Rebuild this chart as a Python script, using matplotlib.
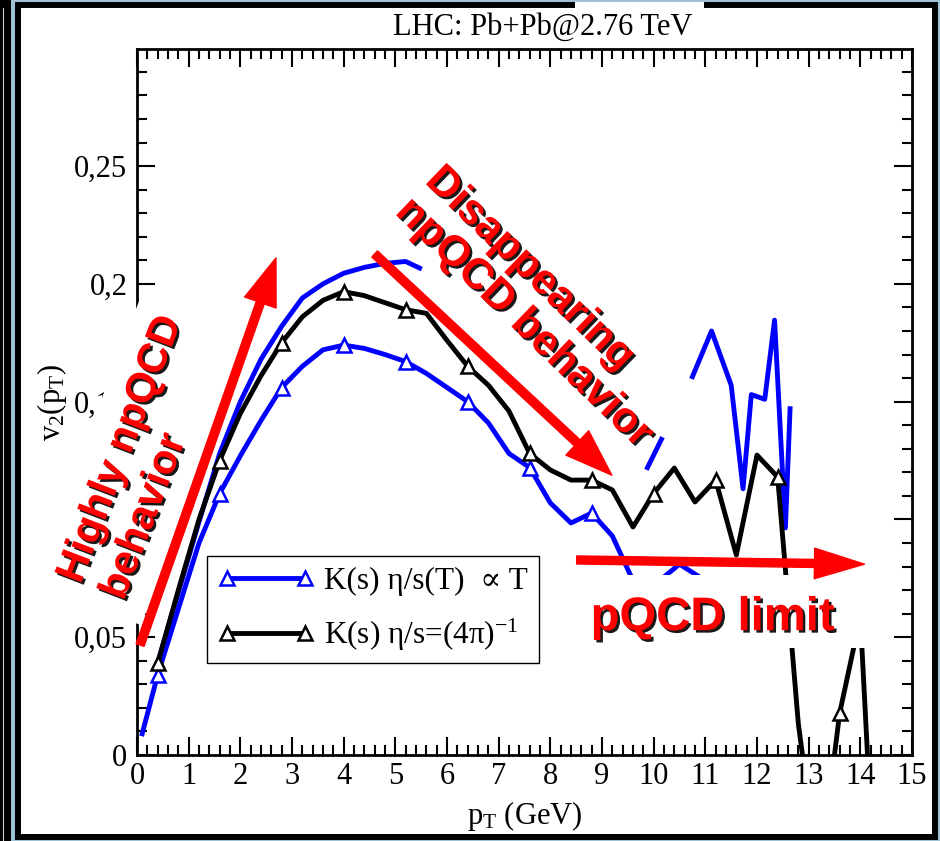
import numpy as np
import matplotlib
matplotlib.use("Agg")
import matplotlib.pyplot as plt
from matplotlib import patheffects
from matplotlib.lines import Line2D
from matplotlib.patches import Rectangle
from matplotlib.ticker import FixedLocator, MultipleLocator

plt.rcParams["font.family"] = ["Liberation Serif", "DejaVu Serif"]
plt.rcParams["mathtext.fontset"] = "custom"
plt.rcParams["mathtext.rm"] = "Liberation Serif"
plt.rcParams["mathtext.it"] = "Liberation Serif:italic"

W, H = 940, 841

# K(s), eta/s(T) ~ T
pt_T = [0.1, 0.4, 0.8, 1.2, 1.6, 2.0, 2.4, 2.8, 3.2, 3.6, 4.0, 4.4, 4.8, 5.2,
        5.6, 6.0, 6.4, 6.8, 7.2, 7.6, 8.0, 8.4, 8.8, 9.2, 9.6, 10.0, 10.5,
        11.0, 11.2, 11.6, 12.0, 12.4]
v2_T = [0.009, 0.034, 0.062, 0.090, 0.111, 0.127, 0.142, 0.156, 0.165, 0.172,
        0.174, 0.1726, 0.170, 0.167, 0.162, 0.156, 0.150, 0.141, 0.128, 0.122,
        0.107, 0.0985, 0.1027, 0.093, 0.074, 0.072, 0.081, 0.074, 0.070, 0.062,
        0.058, 0.055]

# second eta/s(T) run (no symbols), only the parts that show
pt_T2 = [0.4, 0.8, 1.2, 1.6, 2.0, 2.4, 2.8, 3.2, 3.6, 4.0, 4.4, 4.8, 5.2, 5.47,
         7.5, 9.88, 10.15, 10.45, 10.75, 11.12, 11.5, 11.73, 11.89, 12.15,
         12.34, 12.55, 12.64]
v2_T2 = [0.039, 0.069, 0.099, 0.128, 0.150, 0.168, 0.182, 0.194, 0.200, 0.2045,
         0.207, 0.2087, 0.2095, 0.2067, np.nan, 0.122, 0.134, np.nan, 0.1606,
         0.180, 0.157, 0.113, 0.153, 0.151, 0.1846, 0.0964, 0.147]

# K(s), eta/s = 1/(4 pi)
pt_min = [0.4, 0.8, 1.2, 1.6, 2.0, 2.4, 2.8, 3.2, 3.6, 4.0, 4.4, 4.8, 5.2, 5.6,
          6.0, 6.4, 6.8, 7.2, 7.6, 8.0, 8.4, 8.8, 9.2, 9.6, 10.0, 10.4, 10.8,
          11.2, 11.6, 12.0, 12.4, 12.8, 13.2, 13.6, 14.0, 14.4]
v2_min = [0.039, 0.070, 0.100, 0.125, 0.145, 0.161, 0.175, 0.186, 0.193, 0.1967,
          0.195, 0.192, 0.189, 0.1875, 0.176, 0.165, 0.157, 0.146, 0.128, 0.121,
          0.1167, 0.1167, 0.1125, 0.0968, 0.111, 0.1218, 0.1074, 0.1167, 0.0849,
          0.1273, 0.118, 0.0133, -0.053, 0.0178, 0.0586, -0.11]

legend_labels = [r"K(s) η/s(T)  ∝ T", r"K(s) η/s=(4π)$^{-1}$"]
yticks = [0.0, 0.05, 0.10, 0.15, 0.20, 0.25]
yticklabels = ["0", "0,05", "0,1", "0,15", "0,2", "0,25"]
xticks = list(range(0, 16))


def symbol_idx(xs, start=0.4, step=1.2):
    out = []
    for i, x in enumerate(xs):
        k = (x - start) / step
        if abs(k - round(k)) < 1e-6:
            out.append(i)
    return out


def fig_rect(x0, y0, x1, y1, **kw):
    # pixel box (top-down) -> figure-fraction rectangle
    return Rectangle((x0 / W, 1 - y1 / H), (x1 - x0) / W, (y1 - y0) / H,
                     transform=fig.transFigure, **kw)


fig = plt.figure(figsize=(W / 100, H / 100), dpi=100, facecolor="#9ec3d6")

# slide frame around the plot
fig.patches.append(fig_rect(0, 0, 11, H, fc="black", ec="none", zorder=-3))
fig.add_artist(Line2D([2.5 / W, 2.5 / W], [0, 1 - 8 / H], transform=fig.transFigure,
                      color="#cccccc", lw=0.8, zorder=-2))
fig.patches.append(fig_rect(18, 5, 935, 837, fc="white", ec="black", lw=4.3, zorder=-2))
fig.patches.append(fig_rect(575, 2, 704, 9, fc="white", ec="none", zorder=-1))

ax = fig.add_axes([137 / W, (H - 755) / H, 775 / W, 706 / H])
ax.set_xlim(0, 15)
ax.set_ylim(0, 0.2997)

line_kw = dict(lw=3.5, marker="^", ms=10, mfc="white", mew=1.8)
ax.plot(pt_T2, v2_T2, color="blue", lw=3.5, zorder=3.0)
ax.plot(pt_T, v2_T, color="blue", mec="blue", markevery=symbol_idx(pt_T),
        zorder=3.1, **line_kw)
ax.plot(pt_min, v2_min, color="black", mec="black", markevery=symbol_idx(pt_min),
        zorder=3.2, **line_kw)

# white label box over the pQCD region
ax.add_patch(Rectangle((9.0, 0.0454), 5.4, 0.031, fc="white", ec="none", zorder=3.5))

ax.xaxis.set_major_locator(FixedLocator(xticks))
ax.xaxis.set_minor_locator(MultipleLocator(0.2))
ax.set_xticklabels([str(t) for t in xticks])
ax.yaxis.set_major_locator(FixedLocator(yticks))
ax.yaxis.set_minor_locator(MultipleLocator(0.01))
ax.set_yticklabels(yticklabels)
ax.tick_params(which="both", direction="in", top=True, right=True, width=1.5,
               labelsize=22)
ax.tick_params(which="major", length=13)
ax.tick_params(which="minor", length=7)
ax.tick_params(axis="x", pad=5)
ax.tick_params(axis="y", pad=7)
for s in ax.spines.values():
    s.set_linewidth(2)

ax.set_xlabel(r"p$_\mathrm{T}$ (GeV)", fontsize=22, labelpad=6)
ax.set_ylabel(r"v$_2$(p$_\mathrm{T}$)", fontsize=22, labelpad=4)
fig.text(543 / W, 1 - 35 / H, "LHC: Pb+Pb@2.76 TeV", ha="center", va="baseline",
         fontsize=22)

handles = [
    Line2D([], [], color="blue", mec="blue", **line_kw),
    Line2D([], [], color="black", mec="black", **line_kw),
]
leg = ax.legend(handles, legend_labels, loc="upper left",
                bbox_to_anchor=(0.0903, 0.2819), borderaxespad=0, numpoints=2,
                handlelength=3.1, handletextpad=0.3, labelspacing=0.65,
                borderpad=0.35, fancybox=False, edgecolor="black", framealpha=1,
                fontsize=22.5)
leg.get_frame().set_linewidth(1.0)

# red annotations
red_font = dict(family=["Liberation Sans", "DejaVu Sans"], weight="bold", color="red")
shadow = [patheffects.withSimplePatchShadow(offset=(1.8, -1.8), shadow_rgbFace="black",
                                            alpha=0.9)]
arrow_big = "simple,head_length=34,head_width=24,tail_width=6"
arrow_flat = "simple,head_length=36,head_width=22,tail_width=5.8"

ax.annotate("", xy=(2.69, 0.211), xytext=(0.06, 0.0467),
            arrowprops=dict(arrowstyle=arrow_big, color="red", shrinkA=0, shrinkB=0,
                            mutation_scale=1), zorder=4)
ax.annotate("", xy=(9.19, 0.1188), xytext=(4.6, 0.2127),
            arrowprops=dict(arrowstyle=arrow_big, color="red", shrinkA=0, shrinkB=0,
                            mutation_scale=1), zorder=4)
ax.annotate("", xy=(14.08, 0.081), xytext=(8.51, 0.0828),
            arrowprops=dict(arrowstyle=arrow_flat, color="red", shrinkA=0, shrinkB=0,
                            mutation_scale=1), zorder=4)

ax.text(0.10, 0.1263, "Highly npQCD\nbehavior", rotation=69, rotation_mode="anchor",
        ha="center", va="center", multialignment="left", fontsize=30, linespacing=1.2,
        bbox=dict(boxstyle="square,pad=0.38", fc="white", ec="none"),
        path_effects=shadow, zorder=2.6, **red_font)
ax.text(7.77, 0.190, "Disappearing\nnpQCD behavior", rotation=-44,
        rotation_mode="anchor", ha="center", va="center", multialignment="left",
        fontsize=31, linespacing=1.1, path_effects=shadow, zorder=4.5, **red_font)
ax.text(11.14, 0.053, "pQCD limit", ha="center", va="baseline", fontsize=34,
        path_effects=shadow, zorder=4.5, **red_font)

fig.savefig("out.png", dpi=100)
